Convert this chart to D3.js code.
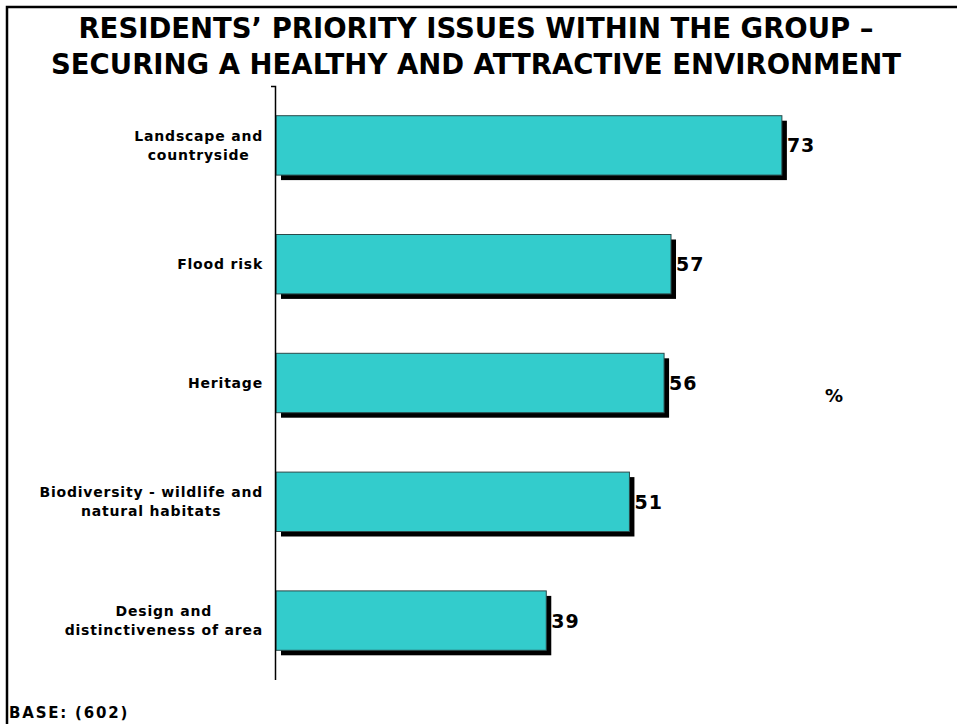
<!DOCTYPE html>
<html>
<head>
<meta charset="utf-8">
<script src="https://cdn.jsdelivr.net/npm/d3@7"></script>
<style>
  body { margin: 0; background: #fff; }
  svg { display: block; }
  text { font-family: "DejaVu Sans", Verdana, sans-serif; font-weight: bold; fill: #000; }
</style>
</head>
<body>
<svg id="chart" width="957" height="724"></svg>
<script>
const categories = [
  ["Landscape and", "countryside"],
  ["Flood risk"],
  ["Heritage"],
  ["Biodiversity - wildlife and", "natural habitats"],
  ["Design and", "distinctiveness of area"]
];
const values = [73, 57, 56, 51, 39];
const titleLines = [
  "RESIDENTS\u2019 PRIORITY ISSUES WITHIN THE GROUP \u2013",
  "SECURING A HEALTHY AND ATTRACTIVE ENVIRONMENT"
];
const baseNote = "BASE: (602)";
const unitLabel = "%";

const svg = d3.select("#chart");
const W = 957, H = 724;

// frame
svg.append("path")
  .attr("d", `M7,${H + 5} L7,7 L${W + 5},7`)
  .attr("fill", "none").attr("stroke", "#000").attr("stroke-width", 2.5);

// title
svg.selectAll("text.title").data(titleLines).enter().append("text")
  .attr("class", "title")
  .attr("x", 476).attr("y", (d, i) => 38 + i * 36)
  .attr("text-anchor", "middle")
  .style("font-size", "27.5px")
  .text(d => d);

const idx = d3.range(values.length);
const x = d3.scaleLinear().domain([0, 100]).range([276, 969]);
const y = d3.scaleBand().domain(idx).range([86, 680]).paddingInner(0.5).paddingOuter(0.25);

// shadows
svg.selectAll("rect.shadow").data(idx).enter().append("rect")
  .attr("x", i => x(0) + 5).attr("y", i => y(i) + 5)
  .attr("width", i => x(values[i]) - x(0)).attr("height", y.bandwidth())
  .attr("fill", "#000");

// bars
svg.selectAll("rect.bar").data(idx).enter().append("rect")
  .attr("x", x(0)).attr("y", i => y(i))
  .attr("width", i => x(values[i]) - x(0)).attr("height", y.bandwidth())
  .attr("fill", "#33CCCC").attr("stroke", "#2a4a4a").attr("stroke-width", 1);

// axis line
svg.append("path")
  .attr("d", `M271,86.5 L275.5,86.5 L275.5,680`)
  .attr("fill", "none").attr("stroke", "#000").attr("stroke-width", 1.5);

// value labels
svg.selectAll("text.val").data(idx).enter().append("text")
  .attr("x", i => x(values[i]) + 5)
  .attr("y", i => y(i) + y.bandwidth() / 2 + 7)
  .style("font-size", "19px")
  .style("letter-spacing", "1px")
  .text(i => values[i]);

// category labels
const labelRight = 263;
idx.forEach(i => {
  const lines = categories[i];
  const g = svg.append("g");
  const lh = 19;
  const cy = y(i) + y.bandwidth() / 2;
  const texts = lines.map((l, k) => g.append("text")
    .attr("y", cy + 5 + (k - (lines.length - 1) / 2) * lh)
    .style("font-size", "14px")
    .style("letter-spacing", "0.8px")
    .text(l));
  const widths = texts.map(t => t.node().getComputedTextLength());
  const maxW = d3.max(widths);
  const center = labelRight - maxW / 2;
  texts.forEach(t => t.attr("x", center).attr("text-anchor", "middle"));
});

// unit label
svg.append("text").attr("x", 825).attr("y", 402)
  .style("font-size", "18px").text(unitLabel);

// base
svg.append("text").attr("x", 9).attr("y", 718)
  .style("font-size", "15px").style("letter-spacing", "1.8px").text(baseNote);
</script>
</body>
</html>
